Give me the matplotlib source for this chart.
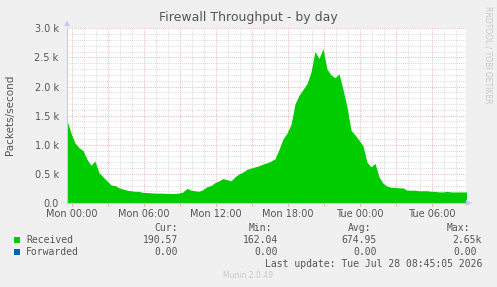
import numpy as np
import matplotlib
matplotlib.use("Agg")
import matplotlib.pyplot as plt

# ---- data (packets/second, 20-minute samples starting Sun 23:35) ----
received = [1420, 1200, 1030, 950, 900, 750, 650, 720, 520, 450,
            380, 310, 300, 260, 240, 220, 210, 200, 200, 180,
            180, 175, 170, 170, 168, 165, 162, 165, 170, 190,
            250, 220, 210, 200, 230, 280, 300, 350, 380, 420,
            400, 380, 450, 500, 530, 580, 600, 620, 640, 670,
            690, 720, 760, 920, 1100, 1200, 1350, 1700, 1850, 1950,
            2050, 2250, 2600, 2480, 2650, 2300, 2200, 2150, 2220, 1950,
            1650, 1250, 1170, 1080, 980, 700, 620, 680, 450, 340,
            290, 270, 270, 260, 260, 220, 220, 220, 210, 210,
            210, 200, 200, 190, 190, 200, 190, 190, 190, 190, 190]
forwarded = [0.0] * len(received)
x_tick_labels = ["Mon 00:00", "Mon 06:00", "Mon 12:00", "Mon 18:00",
                 "Tue 00:00", "Tue 06:00"]
y_tick_labels = ["0.0", "0.5 k", "1.0 k", "1.5 k", "2.0 k", "2.5 k", "3.0 k"]
legend_names = ["Received", "Forwarded"]
legend_cur = ["190.57", "0.00"]
legend_min = ["162.04", "0.00"]
legend_avg = ["674.95", "0.00"]
legend_max = ["2.65k", "0.00"]

W, H = 497, 287
BG = "#f0f0f0"
TXT = "#555555"
GREEN = "#00cc00"
BLUE = "#0066b3"
AXC = "#c8c8f4"
RED_GRID = "#e6a0a0"
GRAY_GRID = "#cccccc"

fig = plt.figure(figsize=(W / 100, H / 100), dpi=100, facecolor=BG)

def fx(px):
    return px / W

def fy(py):
    return 1 - py / H

left, right, top, bottom = 67, 466, 28.3, 203
ax = fig.add_axes([fx(left), fy(bottom), fx(right - left), (bottom - top) / H])
ax.set_facecolor("white")

t0 = -5 / 12.0
step = 4 / 12.0
times = t0 + step * np.arange(len(received))
ax.fill_between(times, received, 0, color=GREEN, linewidth=0, zorder=3)

xmin, xmax = t0, (right - 72) / 12.0
ax.set_xlim(xmin, xmax)
ax.set_ylim(0, 3000)

# grid
for h in np.arange(0, 33, 1):
    if h < xmin or h > xmax:
        continue
    col = RED_GRID if h % 3 == 0 else GRAY_GRID
    ax.axvline(h, color=col, lw=0.6, ls=(0, (1, 1.5)), zorder=1)
for v in range(100, 3001, 100):
    col = RED_GRID if v % 500 == 0 else GRAY_GRID
    ax.axhline(v, color=col, lw=0.6, ls=(0, (1, 1.5)), zorder=1)

for s in ["top", "right"]:
    ax.spines[s].set_visible(False)
for s in ["left", "bottom"]:
    ax.spines[s].set_color(AXC)
    ax.spines[s].set_linewidth(0.8)
    ax.spines[s].set_zorder(4)

ax.set_xticks(np.arange(0, 31, 6))
ax.set_xticklabels(x_tick_labels)
ax.set_xticks(np.arange(0, 33, 3), minor=True)
ax.set_yticks(np.arange(0, 3001, 500))
ax.set_yticklabels(y_tick_labels)
ax.tick_params(axis="both", which="both", labelsize=7, colors=TXT, length=2,
               width=0.6, pad=2)
ax.tick_params(axis="x", which="both", color=RED_GRID)
ax.tick_params(axis="y", which="both", length=0, pad=6)

# arrows on axes
fig.patches.append(matplotlib.patches.Polygon(
    [[fx(left - 3), fy(top - 2)], [fx(left + 3), fy(top - 2)], [fx(left), fy(top - 8)]],
    closed=True, transform=fig.transFigure, facecolor=AXC, edgecolor="none"))
fig.patches.append(matplotlib.patches.Polygon(
    [[fx(right), fy(bottom - 3)], [fx(right), fy(bottom + 3)], [fx(right + 6), fy(bottom)]],
    closed=True, transform=fig.transFigure, facecolor=AXC, edgecolor="none"))

# texts
fig.text(fx(248), fy(18), "Firewall Throughput - by day", ha="center", va="center",
         fontsize=9, color=TXT)
fig.text(fx(10), fy(115), "Packets/second", rotation=90, ha="center", va="center",
         fontsize=7.5, color=TXT)
fig.text(fx(488), fy(6), "RRDTOOL / TOBI OETIKER", rotation=270, ha="center", va="top",
         fontsize=5.5, color="#c8c8c8")

mono = "DejaVu Sans Mono"
fs = 7
hy = 228
cols = [("Cur:", 178, 178, legend_cur), ("Min:", 272, 278, legend_min),
        ("Avg:", 371, 377, legend_avg), ("Max:", 470, 482, legend_max)]
for hdr, hx, xr, vals in cols:
    fig.text(fx(hx), fy(hy), hdr, ha="right", va="center", fontsize=fs,
             family=mono, color=TXT)
for i, (name, colr) in enumerate(zip(legend_names, [GREEN, BLUE])):
    yy = 240 + 12 * i
    fig.patches.append(matplotlib.patches.Rectangle(
        (fx(14), fy(yy + 3)), 6 / W, 6 / H, transform=fig.transFigure,
        facecolor=colr, edgecolor="none"))
    fig.text(fx(26), fy(yy), name, ha="left", va="center", fontsize=fs,
             family=mono, color=TXT)
    for hdr, hx, xr, vals in cols:
        xx = xr
        if hdr == "Max:" and vals[i] == "0.00":
            xx = 477
        fig.text(fx(xx), fy(yy), vals[i], ha="right", va="center", fontsize=fs,
                 family=mono, color=TXT)
fig.text(fx(482), fy(264), "Last update: Tue Jul 28 08:45:05 2026", ha="right",
         va="center", fontsize=fs, family=mono, color=TXT)
fig.text(fx(248), fy(276), "Munin 2.0.49", ha="center", va="center",
         fontsize=5.5, color="#c8c8c8")

fig.savefig("out.png", dpi=100, facecolor=BG)
